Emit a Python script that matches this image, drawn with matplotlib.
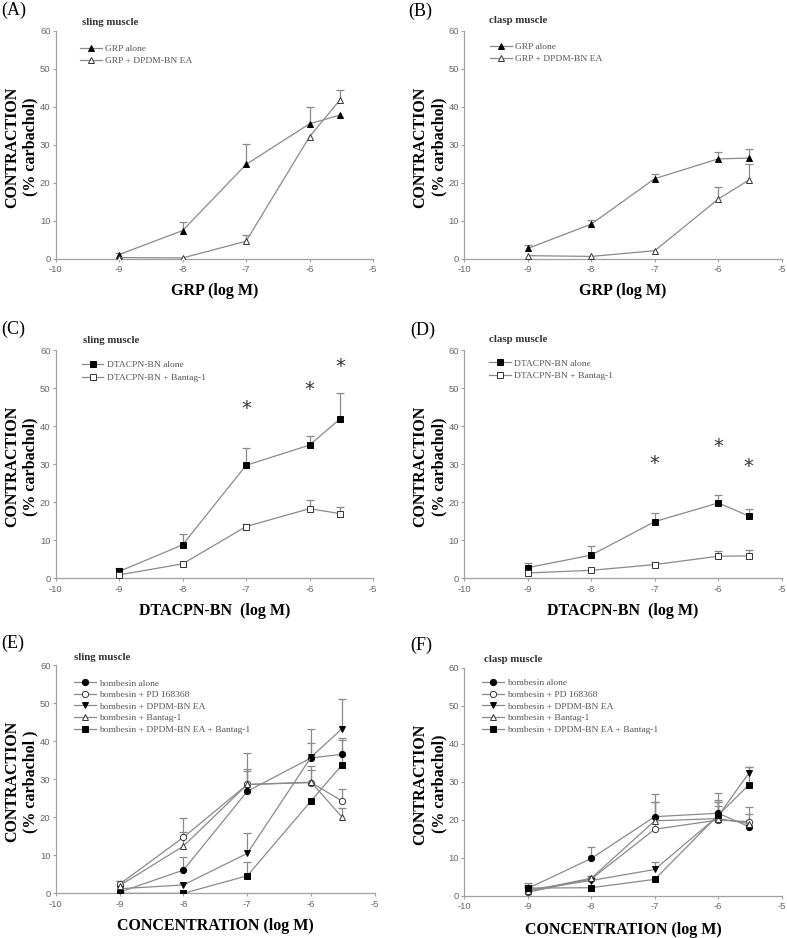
import matplotlib
matplotlib.use("Agg")
import matplotlib.pyplot as plt
import numpy as np

plt.rcParams['axes.unicode_minus'] = False

W, H = 787, 938

# ---------------- data ----------------
log_conc = [-9, -8, -7, -6, -5.52]
x_ticks = [-10, -9, -8, -7, -6, -5]
y_ticks = [0, 10, 20, 30, 40, 50, 60]

# (A) sling, GRP
A_alone = [1.1, 7.4, 24.8, 35.5, 37.8]
A_alone_err = [0.4, 2.2, 5.3, 4.4, 0.0]
A_dpdm = [0.3, 0.2, 4.6, 32.1, 41.8]
A_dpdm_err = [0.0, 0.0, 1.6, 0.0, 2.6]

# (B) clasp, GRP
B_alone = [2.7, 9.1, 21.1, 26.3, 26.5]
B_alone_err = [0.9, 1.2, 1.2, 1.7, 2.4]
B_dpdm = [0.8, 0.6, 2.1, 15.7, 20.7]
B_dpdm_err = [0.0, 0.0, 0.0, 3.3, 4.3]

# (C) sling, DTACPN-BN
C_alone = [1.8, 8.8, 29.7, 35.0, 41.9]
C_alone_err = [0.9, 2.9, 4.5, 2.5, 6.7]
C_bantag = [0.9, 3.8, 13.6, 18.3, 17.0]
C_bantag_err = [0.0, 0.0, 0.8, 2.2, 1.8]
C_star_x = [-7, -6, -5.52]
C_star_y = [44.5, 49.6, 55.6]

# (D) clasp, DTACPN-BN
D_alone = [2.8, 6.1, 14.9, 19.8, 16.4]
D_alone_err = [1.2, 2.3, 2.3, 2.0, 1.9]
D_bantag = [1.4, 2.1, 3.6, 5.8, 5.9]
D_bantag_err = [0.0, 0.0, 0.7, 1.3, 1.6]
D_star_x = [-7, -6, -5.52]
D_star_y = [30.2, 34.6, 29.3]

# (E) sling, bombesin
E_alone = [0.3, 6.1, 26.8, 35.6, 36.5]
E_alone_err = [0.0, 3.5, 5.3, 4.0, 4.4]
E_pd = [2.4, 14.7, 28.6, 29.1, 24.3]
E_pd_err = [0.8, 5.0, 8.2, 4.4, 3.1]
E_dpdm = [1.2, 2.2, 10.5, 35.8, 43.2]
E_dpdm_err = [0.0, 0.4, 5.4, 7.4, 7.8]
E_bantag = [2.0, 12.4, 28.6, 29.2, 20.1]
E_bantag_err = [1.2, 3.8, 4.1, 3.1, 2.4]
E_combo = [0.0, 0.0, 4.6, 24.3, 33.7]
E_combo_err = [0.0, 0.0, 3.5, 0.0, 6.6]

# (F) clasp, bombesin
F_alone = [1.9, 9.8, 20.8, 21.7, 18.2]
F_alone_err = [0.5, 3.1, 5.9, 5.2, 0.0]
F_pd = [0.9, 4.4, 17.5, 19.9, 19.5]
F_pd_err = [0.0, 0.7, 7.1, 3.8, 3.9]
F_dpdm = [1.5, 4.0, 6.9, 21.0, 32.2]
F_dpdm_err = [0.8, 0.6, 2.1, 3.7, 1.7]
F_bantag = [1.2, 4.6, 19.7, 20.3, 19.0]
F_bantag_err = [2.1, 0.5, 4.9, 4.4, 2.5]
F_combo = [2.0, 2.1, 4.3, 21.2, 29.1]
F_combo_err = [0.8, 0.0, 0.0, 4.0, 4.8]

GRP_labels = ["GRP alone", "GRP + DPDM-BN EA"]
DTA_labels = ["DTACPN-BN alone", "DTACPN-BN + Bantag-1"]
BOM_labels = ["bombesin alone", "bombesin + PD 168368", "bombesin + DPDM-BN EA",
              "bombesin + Bantag-1", "bombesin + DPDM-BN EA + Bantag-1"]

# ---------------- style ----------------
SERIF = ['Liberation Serif', 'DejaVu Serif']
SANS = ['Liberation Sans', 'DejaVu Sans']
LINE_C = '#8a8a8a'
SPINE_C = '#a0a0a0'
TICK_C = '#666666'
EDGE_C = '#333333'

fig = plt.figure(figsize=(W / 100, H / 100), dpi=100)


def px_axes(l, t, r, b):
    return fig.add_axes([l / W, 1 - b / H, (r - l) / W, (b - t) / H])


def draw_series(ax, y, err, marker, filled, label):
    x = np.array(log_conc)
    y = np.array(y)
    err = np.array(err)
    m = err > 0
    ax.vlines(x[m], y[m], y[m] + err[m], color=LINE_C, lw=0.9, zorder=2)
    ax.plot(x[m], y[m] + err[m], ls='none', marker='_', ms=6, mew=0.9,
            color=LINE_C, zorder=2)
    ax.plot(x, y, color=LINE_C, lw=0.9, marker=marker, ms=4.5,
            mfc='black' if filled else 'white', mec='black' if filled else EDGE_C,
            mew=0.7, label=label, zorder=3)


def setup(ax, ylabel, xlabel, ylab_x, xlab_y):
    ax.set_xlim(-10, -5)
    ax.set_ylim(0, 60)
    ax.set_xticks(x_ticks)
    ax.set_yticks(y_ticks)
    for s in ('top', 'right'):
        ax.spines[s].set_visible(False)
    for s in ('left', 'bottom'):
        ax.spines[s].set_color(SPINE_C)
        ax.spines[s].set_linewidth(0.9)
    ax.tick_params(axis='both', colors=SPINE_C, labelcolor=TICK_C, length=2.2,
                   width=0.8, labelsize=6.8)
    ax.tick_params(axis='y', pad=1.5)
    ax.tick_params(axis='x', pad=2.5)
    for t in ax.get_xticklabels() + ax.get_yticklabels():
        t.set_family(SANS)
    ax.set_ylabel(ylabel, family=SERIF, fontweight='bold', fontsize=11.5,
                  linespacing=1.25)
    ax.yaxis.set_label_coords(ylab_x, 0.49)
    ax.set_xlabel(xlabel, family=SERIF, fontweight='bold', fontsize=11.5)
    ax.xaxis.set_label_coords(0.5, xlab_y)


def legend(ax, x, y, spacing):
    ax.legend(loc='upper left', bbox_to_anchor=(x, y), frameon=False,
              prop={'family': SERIF, 'size': 6.8}, labelcolor='#555555',
              handlelength=2.3, handletextpad=0.35, labelspacing=spacing,
              borderpad=0, borderaxespad=0, numpoints=1)


def stars(ax, xs, ys):
    for xv, yv in zip(xs, ys):
        ax.text(xv, yv, '*', ha='center', va='center', fontsize=14,
                color='#333333', family=['DejaVu Sans'])


YL = "CONTRACTION\n(% carbachol)"

# (A)
axA = px_axes(55.7, 30.7, 373, 258.7)
draw_series(axA, A_alone, A_alone_err, '^', True, GRP_labels[0])
draw_series(axA, A_dpdm, A_dpdm_err, '^', False, GRP_labels[1])
setup(axA, YL, "GRP (log M)", -0.053, -0.105)
legend(axA, 0.077, 0.939, 0.32)

# (B)
axB = px_axes(464.3, 31, 781.7, 258.7)
draw_series(axB, B_alone, B_alone_err, '^', True, GRP_labels[0])
draw_series(axB, B_dpdm, B_dpdm_err, '^', False, GRP_labels[1])
setup(axB, YL, "GRP (log M)", -0.053, -0.105)
legend(axB, 0.081, 0.949, 0.32)

# (C)
axC = px_axes(55.7, 350, 373, 578.3)
draw_series(axC, C_alone, C_alone_err, 's', True, DTA_labels[0])
draw_series(axC, C_bantag, C_bantag_err, 's', False, DTA_labels[1])
stars(axC, C_star_x, C_star_y)
setup(axC, YL, "DTACPN-BN  (log M)", -0.053, -0.11)
legend(axC, 0.082, 0.953, 0.45)

# (D)
axD = px_axes(464.3, 350, 781.7, 578.3)
draw_series(axD, D_alone, D_alone_err, 's', True, DTA_labels[0])
draw_series(axD, D_bantag, D_bantag_err, 's', False, DTA_labels[1])
stars(axD, D_star_x, D_star_y)
setup(axD, YL, "DTACPN-BN  (log M)", -0.053, -0.11)
legend(axD, 0.079, 0.961, 0.45)

# (E)
axE = px_axes(55.7, 665, 375, 893.3)
draw_series(axE, E_alone, E_alone_err, 'o', True, BOM_labels[0])
draw_series(axE, E_pd, E_pd_err, 'o', False, BOM_labels[1])
draw_series(axE, E_dpdm, E_dpdm_err, 'v', True, BOM_labels[2])
draw_series(axE, E_bantag, E_bantag_err, '^', False, BOM_labels[3])
draw_series(axE, E_combo, E_combo_err, 's', True, BOM_labels[4])
setup(axE, "CONTRACTION\n(% carbachol )", "CONCENTRATION (log M)", -0.053, -0.11)
legend(axE, 0.057, 0.939, 0.32)

# (F)
axF = px_axes(464.3, 667.7, 781.7, 895.7)
draw_series(axF, F_alone, F_alone_err, 'o', True, BOM_labels[0])
draw_series(axF, F_pd, F_pd_err, 'o', False, BOM_labels[1])
draw_series(axF, F_dpdm, F_dpdm_err, 'v', True, BOM_labels[2])
draw_series(axF, F_bantag, F_bantag_err, '^', False, BOM_labels[3])
draw_series(axF, F_combo, F_combo_err, 's', True, BOM_labels[4])
setup(axF, YL, "CONCENTRATION (log M)", -0.053, -0.115)
legend(axF, 0.056, 0.951, 0.32)

# panel letters and muscle titles
letters = [("(A)", 1.7, 10), ("(B)", 408, 11.5), ("(C)", 1.7, 329),
           ("(D)", 410, 330.5), ("(E)", 1.7, 643), ("(F)", 410, 645)]
for s, x, y in letters:
    fig.text(x / W, 1 - y / H, s, family=SERIF, fontsize=13, va='center', ha='left')

titles = [("sling muscle", 82, 22.7), ("clasp muscle", 489, 20.7),
          ("sling muscle", 83, 340.7), ("clasp muscle", 489, 339),
          ("sling muscle", 74, 657.7), ("clasp muscle", 484, 660)]
for s, x, y in titles:
    fig.text(x / W, 1 - y / H, s, family=SERIF, fontsize=7.8, fontweight='bold',
             va='center', ha='left', color='#333333')

fig.savefig("out.png", dpi=100)
